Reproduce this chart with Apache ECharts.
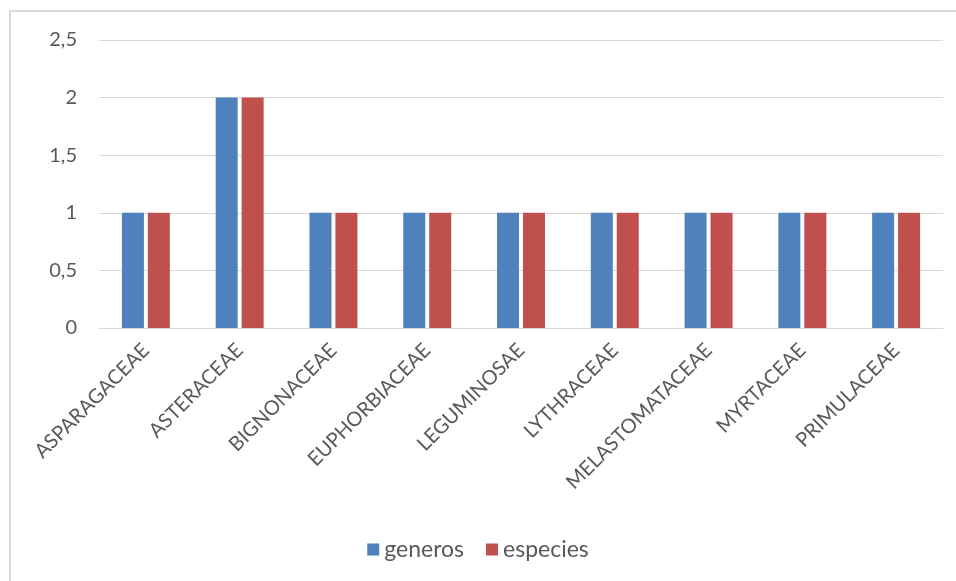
<!DOCTYPE html>
<html><head><meta charset="utf-8">
<script src="https://cdn.jsdelivr.net/npm/echarts@6/dist/echarts.min.js"></script>
<style>html,body{margin:0;padding:0;background:#fff}#c{width:956px;height:581px}</style>
</head><body><div id="c"></div>
<script>
const categories = ['ASPARAGACEAE','ASTERACEAE','BIGNONACEAE','EUPHORBIACEAE','LEGUMINOSAE','LYTHRACEAE','MELASTOMATACEAE','MYRTACEAE','PRIMULACEAE'];
const generos = [1,2,1,1,1,1,1,1,1];
const especies = [1,2,1,1,1,1,1,1,1];
const chart = echarts.init(document.getElementById('c'));
const font = 'Lato, "Open Sans", sans-serif';
chart.setOption({
  animation:false,
  textStyle:{fontFamily:font},
  graphic:[{type:'rect',shape:{x:10,y:11,width:980,height:620},style:{fill:'none',stroke:'#d9d9d9',lineWidth:2},silent:true}],
  grid:{left:99,right:13,top:40,bottom:253,containLabel:false},
  legend:{bottom:15,left:'center',itemWidth:12,itemHeight:12,itemGap:22,icon:'rect',
    textStyle:{fontSize:23,color:'#595959',fontFamily:font},
    data:['generos','especies']},
  xAxis:{type:'category',data:categories,
    axisLine:{lineStyle:{color:'#d9d9d9',width:1}},axisTick:{show:false},
    axisLabel:{rotate:45,fontSize:20,color:'#595959',margin:19,interval:0,fontFamily:font}},
  yAxis:{type:'value',min:0,max:2.5,interval:0.5,
    axisLine:{show:false},axisTick:{show:false},
    splitLine:{lineStyle:{color:'#d9d9d9',width:1}},
    axisLabel:{fontSize:20,color:'#595959',margin:22,fontFamily:font,
      formatter:v=>String(v).replace('.',',')}},
  series:[
    {name:'generos',type:'bar',data:generos,barWidth:22,barGap:'18%',itemStyle:{color:'#4f81bd'}},
    {name:'especies',type:'bar',data:especies,barWidth:22,itemStyle:{color:'#c0504d'}}
  ]
});
</script></body></html>
